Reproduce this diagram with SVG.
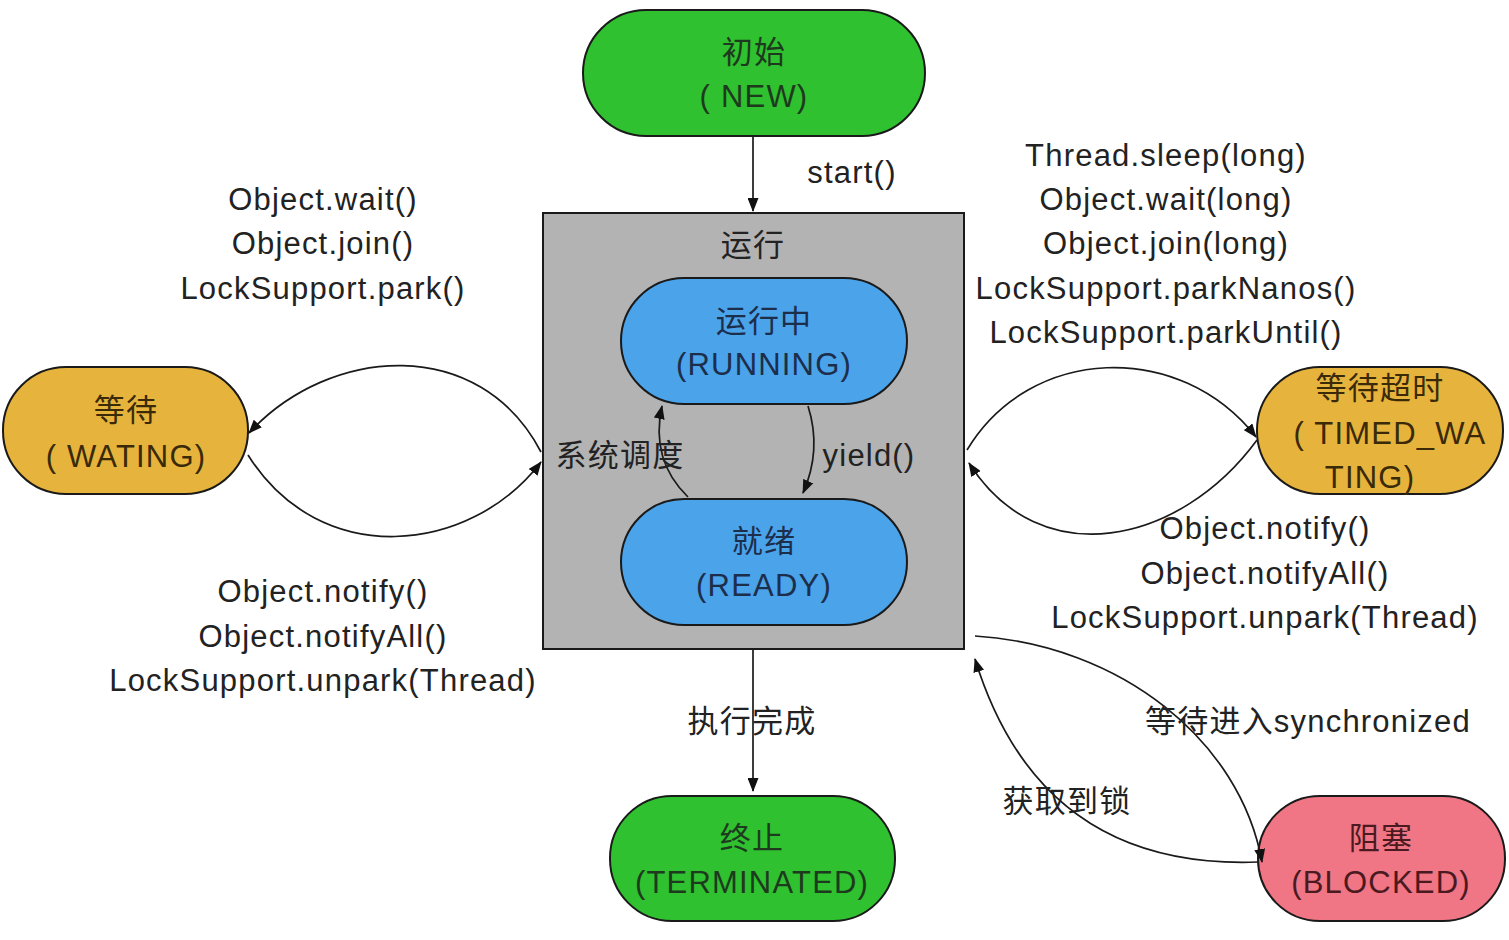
<svg xmlns="http://www.w3.org/2000/svg" width="1509" height="940" viewBox="0 0 1509 940">
<defs>
<marker id="arr" viewBox="0 0 14 11" refX="13" refY="5.5" markerWidth="14" markerHeight="11" markerUnits="userSpaceOnUse" orient="auto">
<path d="M0,0 L14,5.5 L0,11 Z" fill="#111"/>
</marker>
</defs>
<style>
text{font-family:"Liberation Sans","Noto Sans CJK SC",sans-serif;font-size:31px;letter-spacing:1.2px;text-anchor:middle;dominant-baseline:central;fill:#222}
.pill{stroke:#1a1a1a;stroke-width:2}
.green{fill:#2fc12f}
.blue{fill:#4ba3ea}
.yellow{fill:#e6b43c}
.pink{fill:#f07585}
.tg{fill:#1e3a1e}
.tb{fill:#1c2e4a}
.ty{fill:#3a2a08}
.tp{fill:#4a1a20}
.edge{fill:none;stroke:#1a1a1a;stroke-width:1.7;marker-end:url(#arr)}
</style>
<rect width="1509" height="940" fill="#ffffff"/>

<g id="running-box">
<rect x="543" y="213" width="421" height="436" fill="#b3b3b3" stroke="#1a1a1a" stroke-width="2"/>
<text x="753" y="245">运行</text>
</g>

<g id="node-new">
<rect class="pill green" x="583" y="10" width="342" height="126" rx="63"/>
<text class="tg" x="754" y="52">初始</text>
<text class="tg" x="754" y="96">( NEW)</text>
</g>

<g id="node-running">
<rect class="pill blue" x="621" y="278" width="286" height="126" rx="63"/>
<text class="tb" x="764" y="321">运行中</text>
<text class="tb" x="764" y="364">(RUNNING)</text>
</g>

<g id="node-ready">
<rect class="pill blue" x="621" y="499" width="286" height="126" rx="63"/>
<text class="tb" x="764" y="541">就绪</text>
<text class="tb" x="764" y="585">(READY)</text>
</g>

<g id="node-waiting">
<rect class="pill yellow" x="3" y="367" width="245" height="127" rx="63"/>
<text class="ty" x="126" y="410">等待</text>
<text class="ty" x="126" y="456">( WATING)</text>
</g>

<g id="node-timed-waiting">
<rect class="pill yellow" x="1257" y="367" width="246" height="127" rx="63"/>
<text class="ty" x="1380" y="388">等待超时</text>
<text class="ty" x="1390" y="433">( TIMED_WA</text>
<text class="ty" x="1370" y="477">TING)</text>
</g>

<g id="node-blocked">
<rect class="pill pink" x="1258" y="796" width="247" height="125" rx="62"/>
<text class="tp" x="1381" y="838">阻塞</text>
<text class="tp" x="1381" y="882">(BLOCKED)</text>
</g>

<g id="node-terminated">
<rect class="pill green" x="610" y="796" width="285" height="125" rx="62"/>
<text class="tg" x="752" y="838">终止</text>
<text class="tg" x="752" y="882">(TERMINATED)</text>
</g>

<g id="connectors">
<path class="edge" d="M753,136 L753,211"/>
<path class="edge" d="M688,497 Q650,460 662,406"/>
<path class="edge" d="M808,406 Q822,450 803,493"/>
<path class="edge" d="M541,452 C480,335 330,345 249,433"/>
<path class="edge" d="M248,455 C320,570 470,555 541,462"/>
<path class="edge" d="M967,450 C1030,345 1180,340 1256,437"/>
<path class="edge" d="M1257,440 C1180,545 1040,575 969,463"/>
<path class="edge" d="M975,636 C1120,645 1240,740 1262,862"/>
<path class="edge" d="M1258,862 Q1040,870 975,659"/>
<path class="edge" d="M753,650 L753,791"/>
</g>

<g id="labels">
<text x="852" y="172">start()</text>
<text x="620" y="455">系统调度</text>
<text x="869" y="455">yield()</text>
<text x="323" y="199">Object.wait()</text>
<text x="323" y="243">Object.join()</text>
<text x="323" y="288">LockSupport.park()</text>
<text x="323" y="591">Object.notify()</text>
<text x="323" y="636">Object.notifyAll()</text>
<text x="323" y="680">LockSupport.unpark(Thread)</text>
<text x="1166" y="155">Thread.sleep(long)</text>
<text x="1166" y="199">Object.wait(long)</text>
<text x="1166" y="243">Object.join(long)</text>
<text x="1166" y="288">LockSupport.parkNanos()</text>
<text x="1166" y="332">LockSupport.parkUntil()</text>
<text x="1265" y="528">Object.notify()</text>
<text x="1265" y="573">Object.notifyAll()</text>
<text x="1265" y="617">LockSupport.unpark(Thread)</text>
<text x="752" y="721">执行完成</text>
<text x="1308" y="721">等待进入synchronized</text>
<text x="1067" y="801">获取到锁</text>
</g>
</svg>
